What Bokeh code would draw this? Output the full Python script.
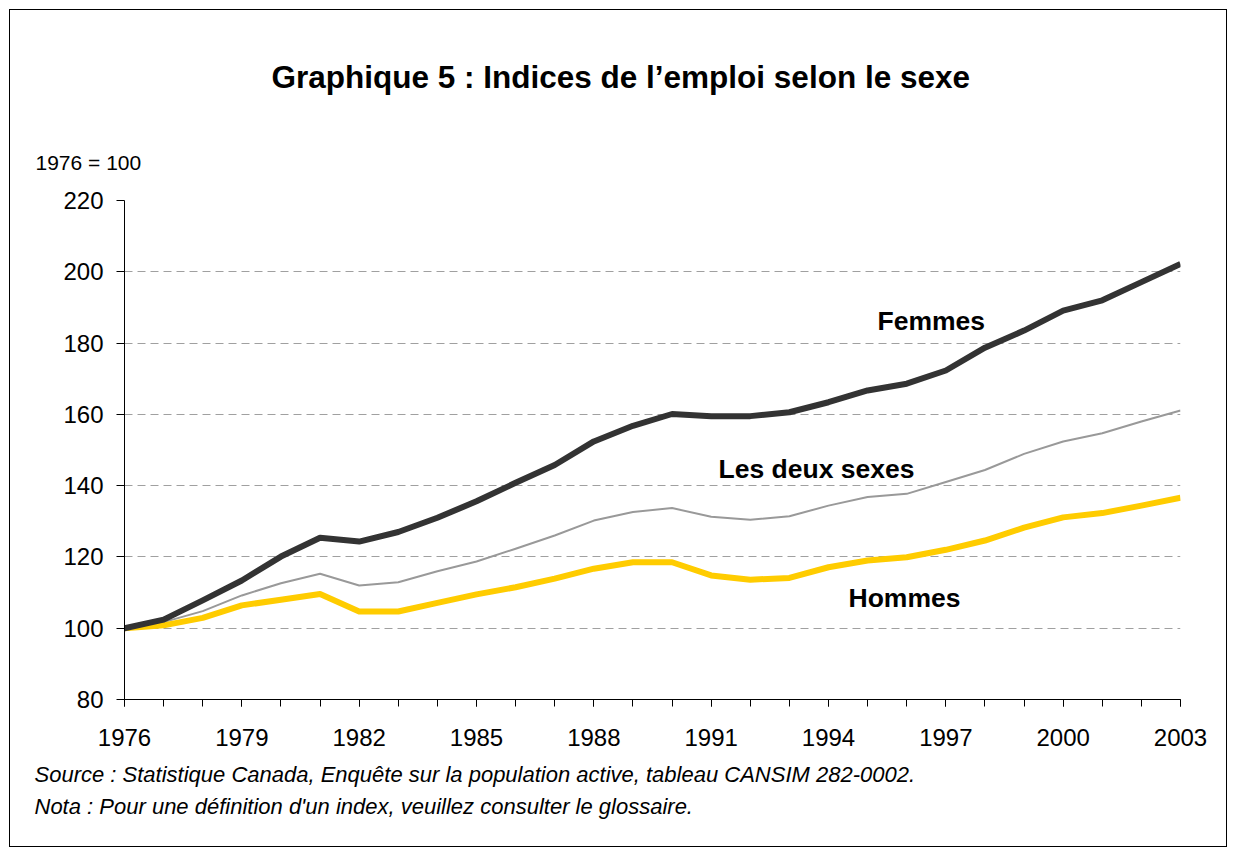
from bokeh.plotting import figure
from bokeh.models import Range1d, FixedTicker, Label, Title
from bokeh.embed import file_html
from bokeh.resources import INLINE

years = list(range(1976, 2004))
femmes = [100, 102.4, 107.8, 113.4, 120.1, 125.4, 124.3, 127.0, 131.0, 135.6,
          140.8, 145.8, 152.4, 156.8, 160.1, 159.5, 159.5, 160.6, 163.4, 166.7,
          168.6, 172.3, 178.7, 183.5, 189.1, 192.0, 197.1, 202.2]
deux_sexes = [100, 101.7, 104.8, 109.2, 112.6, 115.3, 112.0, 112.9, 116.0, 118.7,
              122.3, 126.0, 130.2, 132.6, 133.7, 131.3, 130.4, 131.4, 134.4, 136.8,
              137.7, 141.0, 144.4, 148.9, 152.4, 154.7, 158.0, 161.1]
hommes = [100, 100.8, 102.9, 106.4, 108.0, 109.6, 104.7, 104.7, 107.1, 109.5,
          111.5, 113.9, 116.7, 118.5, 118.5, 114.8, 113.6, 114.1, 117.1, 119.0,
          119.9, 122.0, 124.6, 128.2, 131.1, 132.3, 134.4, 136.6]
x_tick_labels = list(range(1976, 2004, 3))
y_ticks = [80, 100, 120, 140, 160, 180, 200, 220]

FONT = "Liberation Sans"

p = figure(width=1218, height=838, output_backend="svg", toolbar_location=None,
           x_range=Range1d(1976, 2003), y_range=Range1d(80, 220),
           min_border_left=114, min_border_right=48, min_border_top=190,
           min_border_bottom=149)
p.styles = {"border": "1px solid #000000", "margin-left": "9px", "margin-top": "9px"}
p.outline_line_color = None
p.background_fill_color = "white"
p.border_fill_color = "white"

p.xaxis.ticker = FixedTicker(ticks=x_tick_labels, minor_ticks=years)
p.yaxis.ticker = FixedTicker(ticks=y_ticks, minor_ticks=[])
for ax in (p.xaxis[0], p.yaxis[0]):
    ax.axis_line_color = "black"
    ax.axis_line_width = 1
    ax.major_tick_line_color = "black"
    ax.minor_tick_line_color = "black"
    ax.major_tick_in = 0
    ax.minor_tick_in = 0
    ax.major_label_text_font = FONT
    ax.major_label_text_font_size = "24px"
    ax.major_label_text_color = "black"
p.xaxis.major_tick_out = 7
p.xaxis.minor_tick_out = 7
p.xaxis.major_label_standoff = 22
p.yaxis.major_tick_out = 8
p.yaxis.major_label_standoff = 13

p.xgrid.grid_line_color = None
p.ygrid.grid_line_color = "#a0a0a0"
p.ygrid.grid_line_dash = "8 5"
p.ygrid.grid_line_width = 1

p.line(years, deux_sexes, line_color="#999999", line_width=2, line_join="round")
p.line(years, hommes, line_color="#FFCC00", line_width=6, line_join="round")
p.line(years, femmes, line_color="#333333", line_width=6, line_join="round")

def lab(text, x, y, size, style="normal", align="left"):
    p.add_layout(Label(x=x, y=y, x_units="screen", y_units="screen", text=text,
                       text_font=FONT, text_font_size=size, text_font_style=style,
                       text_align=align, text_baseline="middle", text_color="black"))

lab("Femmes", 753, 379, "26.5px", "bold")
lab("Les deux sexes", 594, 231, "26.5px", "bold")
lab("Hommes", 724, 102, "26.5px", "bold")

def ttl(text, where, size, style, align, offset, standoff):
    p.add_layout(Title(text=text, align=align, offset=offset, standoff=standoff,
                       text_font=FONT, text_font_size=size, text_font_style=style,
                       text_color="black"), where)

ttl("1976 = 100", "above", "21px", "normal", "left", -89, 53)
ttl("Graphique 5 : Indices de l\u2019emploi selon le sexe", "above", "31.5px", "bold",
    "left", 147, 56)
ttl("Source : Statistique Canada, Enqu\u00eate sur la population active, tableau CANSIM 282-0002.",
    "below", "22px", "italic", "left", -90, 23)
ttl("Nota : Pour une d\u00e9finition d'un index, veuillez consulter le glossaire.",
    "below", "22px", "italic", "left", -90, -14)

open("out.html", "w").write(file_html(p, INLINE))
